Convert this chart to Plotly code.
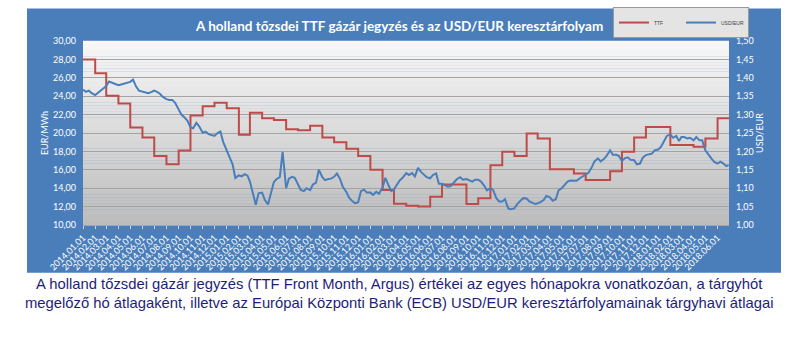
import plotly.graph_objects as go
import pandas as pd

# ---------------- data ----------------
months = pd.date_range("2014-01-01", "2018-06-01", freq="MS")
axis_end = "2018-06-30"

ttf = [
    28.0, 26.5, 24.05, 23.2, 20.6, 19.5, 17.5, 16.6, 18.1, 21.9, 22.9, 23.3,      # 2014
    22.7, 19.8, 22.2, 21.6, 21.4, 20.4, 20.3, 20.8, 19.5, 19.0, 18.3, 17.5,       # 2015
    16.0, 13.8, 12.3, 12.1, 12.0, 13.07, 14.4, 14.4, 12.27, 12.9, 16.5, 17.95,    # 2016
    17.5, 19.95, 19.4, 16.05, 16.05, 15.6, 14.9, 14.9, 15.85, 17.95, 19.5, 20.65, # 2017
    20.65, 18.7, 18.7, 18.5, 19.4, 21.6,                                          # 2018
]

# USD/EUR readings: four per month, on days 1, 8, 16 and 23
usd_days = [1, 8, 16, 23]
usd_2014 = [
    1.368, 1.362, 1.365, 1.358, 1.353, 1.360, 1.366, 1.372, 1.378, 1.390, 1.387, 1.383,
    1.380, 1.382, 1.385, 1.387, 1.389, 1.395, 1.376, 1.365, 1.362, 1.360, 1.358, 1.361,
    1.365, 1.362, 1.356, 1.348, 1.342, 1.340, 1.340, 1.332, 1.312, 1.300, 1.292, 1.284,
    1.266, 1.263, 1.278, 1.268, 1.251, 1.254, 1.247, 1.245, 1.242, 1.249, 1.254, 1.226,
]
usd_2015 = [
    1.205, 1.185, 1.165, 1.128, 1.135, 1.132, 1.138, 1.134, 1.118, 1.088, 1.055, 1.086,
    1.088, 1.068, 1.056, 1.085, 1.117, 1.125, 1.130, 1.199, 1.100, 1.126, 1.131, 1.128,
    1.108, 1.095, 1.092, 1.100, 1.095, 1.110, 1.115, 1.150, 1.130, 1.122, 1.125, 1.126,
    1.131, 1.140, 1.125, 1.104, 1.090, 1.074, 1.065, 1.059, 1.062, 1.092, 1.096, 1.088,
]
usd_2016 = [
    1.088, 1.082, 1.090, 1.085, 1.102, 1.128, 1.108, 1.092, 1.097, 1.110, 1.122, 1.128,
    1.141, 1.136, 1.141, 1.132, 1.155, 1.145, 1.136, 1.130, 1.127, 1.136, 1.140, 1.112,
    1.112, 1.108, 1.104, 1.106, 1.118, 1.125, 1.130, 1.123, 1.125, 1.121, 1.118, 1.123,
    1.123, 1.118, 1.107, 1.094, 1.100, 1.095, 1.073, 1.064, 1.064, 1.070, 1.045, 1.043,
]
usd_2017 = [
    1.045, 1.057, 1.066, 1.073, 1.072, 1.064, 1.060, 1.057, 1.059, 1.062, 1.068, 1.079,
    1.075, 1.066, 1.070, 1.094, 1.100, 1.109, 1.118, 1.121, 1.121, 1.120, 1.127, 1.132,
    1.136, 1.142, 1.156, 1.172, 1.181, 1.173, 1.179, 1.188, 1.203, 1.191, 1.191, 1.188,
    1.174, 1.181, 1.184, 1.177, 1.176, 1.165, 1.167, 1.183, 1.190, 1.192, 1.194, 1.203,
]
usd_2018 = [
    1.205, 1.212, 1.230, 1.242, 1.246, 1.237, 1.242, 1.228, 1.239, 1.239, 1.235, 1.237,
    1.230, 1.239, 1.230, 1.230, 1.203, 1.191, 1.181, 1.172, 1.167, 1.172, 1.167, 1.160,
]
usd_last_date = "2018-06-29"
usd_last = 1.163

title_text = "A holland tőzsdei TTF gázár jegyzés és az USD/EUR keresztárfolyam"
caption_text = ("A holland tőzsdei gázár jegyzés (TTF Front Month, Argus) értékei az egyes hónapokra vonatkozóan, a tárgyhót<br>"
                "megelőző hó átlagaként, illetve az Európai Központi Bank (ECB) USD/EUR keresztárfolyamainak tárgyhavi átlagai")

# ---------------- build series ----------------
usd_vals = usd_2014 + usd_2015 + usd_2016 + usd_2017 + usd_2018 + [usd_last]
usd_dates = [m + pd.Timedelta(days=d - 1) for m in months for d in usd_days] + [pd.Timestamp(usd_last_date)]

ttf_x = list(months) + [pd.Timestamp(axis_end)]
ttf_y = ttf + [ttf[-1]]

# ---------------- layout geometry (pixels) ----------------
W, H = 799, 338
PL, PR, PT, PB = 83, 729, 40.5, 225
pw, ph = PR - PL, PB - PT


def px(x):
    return (x - PL) / pw


def py(y):
    return (PB - y) / ph


BLUE_BG = "#4A7EBB"
WHITE = "#FFFFFF"

fig = go.Figure()
fig.add_trace(go.Scatter(
    x=ttf_x, y=ttf_y, name="TTF", mode="lines",
    line=dict(color="#BE4B48", width=2, shape="hv"), yaxis="y",
))
fig.add_trace(go.Scatter(
    x=usd_dates, y=usd_vals, name="USD/EUR", mode="lines",
    line=dict(color="#4A7EBB", width=2), yaxis="y2",
))

shapes = []
# blue chart area
shapes.append(dict(type="rect", xref="paper", yref="paper",
                   x0=px(27), x1=px(781), y0=py(273), y1=py(8),
                   fillcolor=BLUE_BG, line=dict(width=0), layer="below"))
# plot area gradient
n = 60
top = (248, 248, 248)
bot = (188, 188, 188)
for i in range(n):
    t = (i + 0.5) / n
    c = tuple(int(round(top[k] + (bot[k] - top[k]) * t)) for k in range(3))
    shapes.append(dict(type="rect", xref="x domain", yref="y domain",
                       x0=0, x1=1, y0=1 - (i + 1) / n - 0.001, y1=1 - i / n + 0.001,
                       fillcolor="rgb(%d,%d,%d)" % c, line=dict(width=0), layer="below"))

fig.update_layout(
    width=W, height=H,
    margin=dict(l=PL, r=W - PR, t=PT, b=H - PB, autoexpand=False),
    paper_bgcolor="white",
    plot_bgcolor="#DDDDDD",
    separators=", ",
    shapes=shapes,
    showlegend=True,
    legend=dict(
        orientation="h", x=px(613), y=py(22), xanchor="left", yanchor="middle",
        bgcolor="#E4E4E4", bordercolor="#9A9A9A", borderwidth=1,
        font=dict(size=5, color="#404040", family="Liberation Sans"),
        itemwidth=30, tracegroupgap=0, entrywidth=22, entrywidthmode="pixels",
    ),
    xaxis=dict(
        type="date", range=["2014-01-01", axis_end],
        tick0="2014-01-01", dtick="M1", tickformat="%Y.%m.%d",
        tickangle=-45, tickfont=dict(size=9, color=WHITE, family="Lato"),
        showgrid=False, ticks="outside", ticklen=3, tickcolor="#C8D4E8",
        showline=True, linecolor="#A6A6A6", linewidth=1, zeroline=False,
        automargin=False,
    ),
    yaxis=dict(
        range=[10, 30], dtick=2, tickformat=".2f",
        tickfont=dict(size=9, color=WHITE, family="Lato"),
        gridcolor="#A3A3A3", gridwidth=1, zeroline=False, showline=False,
        ticks="", ticklabelstandoff=6,
        title=dict(text="EUR/MWh", font=dict(size=9, color=WHITE, family="Lato"), standoff=2),
        automargin=False,
    ),
    yaxis2=dict(
        range=[1, 1.5], dtick=0.05, tickformat=".2f", overlaying="y", side="right",
        tickfont=dict(size=9, color=WHITE, family="Lato"),
        showgrid=False, zeroline=False, showline=False, ticks="", ticklabelstandoff=6,
        title=dict(text="USD/EUR", font=dict(size=9, color=WHITE, family="Lato"), standoff=2),
        automargin=False,
    ),
    annotations=[
        dict(text="<b>" + title_text + "</b>", xref="paper", yref="paper",
             x=px(399), y=py(25), xanchor="center", yanchor="middle", showarrow=False,
             font=dict(size=13.5, color=WHITE, family="Lato")),
        dict(text=caption_text, xref="paper", yref="paper",
             x=px(399), y=py(294), xanchor="center", yanchor="middle", showarrow=False,
             align="center",
             font=dict(size=14.8, color="#1E1E78", family="Liberation Sans")),
    ],
)

fig.write_html("out.html")
